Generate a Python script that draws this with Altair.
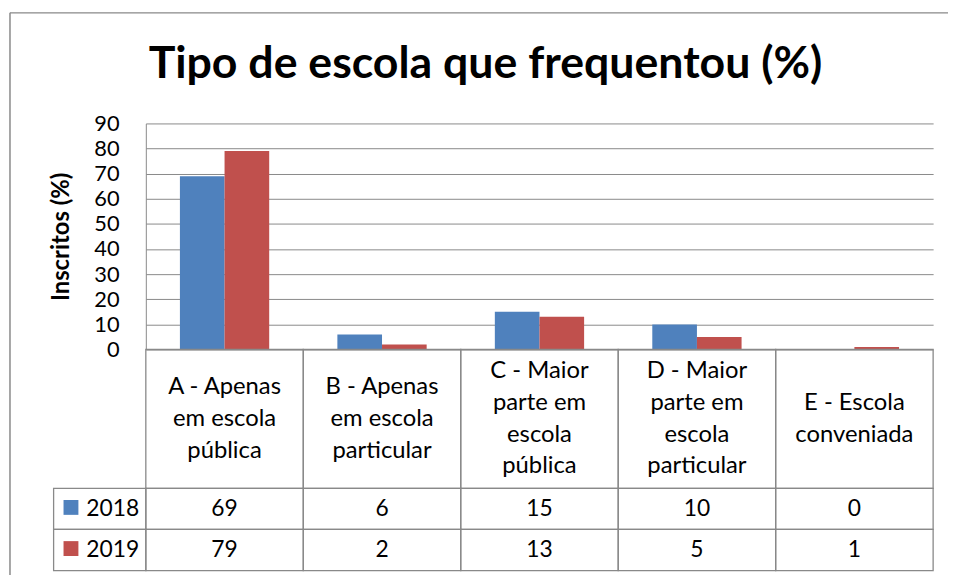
import altair as alt
import pandas as pd

# ---------------- data ----------------
categories = ["A", "B", "C", "D", "E"]
category_labels = [
    ["A - Apenas", "em escola", "pública"],
    ["B - Apenas", "em escola", "particular"],
    ["C - Maior", "parte em", "escola", "pública"],
    ["D - Maior", "parte em", "escola", "particular"],
    ["E - Escola", "conveniada"],
]
years = ["2018", "2019"]
values_2018 = [69, 6, 15, 10, 0]
values_2019 = [79, 2, 13, 5, 1]
y_ticks = [0, 10, 20, 30, 40, 50, 60, 70, 80, 90]
title_text = "Tipo de escola que frequentou (%)"
y_title = "Inscritos (%)"
colors = ["#4F81BD", "#C0504D"]

# ---------------- tables built from the lists ----------------
bars_df = pd.DataFrame({
    "cat": categories * 2,
    "year": [years[0]] * len(categories) + [years[1]] * len(categories),
    "value": values_2018 + values_2019,
})

# table cells (structure: column index, row index)
cells = []
for i in range(len(categories)):
    cells.append(dict(c0=i, c1=i + 1, r0=0, r1=1))
    cells.append(dict(c0=i, c1=i + 1, r0=1, r1=2))
    cells.append(dict(c0=i, c1=i + 1, r0=2, r1=3))
for j in range(len(years)):
    cells.append(dict(c0=-1, c1=0, r0=j + 1, r1=j + 2))
cells_df = pd.DataFrame(cells)

# header lines (one row per text line, line index centred on the cell)
header_rows = []
for i, lines in enumerate(category_labels):
    n = len(lines)
    for k, line in enumerate(lines):
        header_rows.append(dict(xm=i + 0.5, line=k - (n - 1) / 2, text=line))
header_df = pd.DataFrame(header_rows)

value_rows = []
for i in range(len(categories)):
    value_rows.append(dict(xm=i + 0.5, ym=1.5, text=str(values_2018[i])))
    value_rows.append(dict(xm=i + 0.5, ym=2.5, text=str(values_2019[i])))
values_df = pd.DataFrame(value_rows)

legend_df = pd.DataFrame([dict(c0=-1, ym=j + 1.5, text=y, year=y) for j, y in enumerate(years)])

FONT = "Lato"
GRAY = "#898989"
W, H = 794, 228
HEAD_MID = (H + 368) / 2
LINE_H = 32

xt = alt.Scale(type="linear", domain=[-1, 0, 5], range=[-93, 0, W], nice=False, zero=False)
yt = alt.Scale(type="linear", domain=[0, 1, 2, 3], range=[H, 368, 409.5, 451], nice=False, zero=False)
yline = alt.Scale(type="linear", domain=[-2, 2], range=[HEAD_MID - 2 * LINE_H, HEAD_MID + 2 * LINE_H],
                  nice=False, zero=False)

# ---------------- bars ----------------
bars = alt.Chart(bars_df).mark_bar().encode(
    x=alt.X("cat:N", sort=categories, axis=None,
            scale=alt.Scale(domain=categories, range=[0, W], paddingInner=0.433, paddingOuter=0.2165)),
    xOffset=alt.XOffset("year:N", sort=years, scale=alt.Scale(domain=years, paddingInner=0, paddingOuter=0)),
    y=alt.Y("value:Q",
            scale=alt.Scale(domain=[0, 90], range=[H, 0], nice=False, zero=True),
            axis=alt.Axis(values=y_ticks, title=y_title, ticks=False, grid=True,
                          gridColor=GRAY, gridWidth=1, domainColor=GRAY, domainWidth=1,
                          labelFont=FONT, labelFontSize=22, labelColor="black", labelPadding=27,
                          labelBaseline="middle",
                          titleFont=FONT, titleFontSize=24, titleFontWeight="bold", titleColor="black",
                          titleX=-85, titleY=H / 2, titleBaseline="middle", titleAlign="center",
                          titleAngle=270)),
    color=alt.Color("year:N", scale=alt.Scale(domain=years, range=colors), legend=None),
)

# ---------------- table ----------------
grid_rects = alt.Chart(cells_df).mark_rect(fill=None, stroke=GRAY, strokeWidth=1.3).encode(
    x=alt.X("c0:Q", scale=xt, axis=None),
    x2="c1:Q",
    y=alt.Y("r0:Q", scale=yt, axis=None),
    y2="r1:Q",
)

header_text = alt.Chart(header_df).mark_text(
    font=FONT, fontSize=24, color="black", align="center", baseline="middle").encode(
    x=alt.X("xm:Q", scale=xt, axis=None),
    y=alt.Y("line:Q", scale=yline, axis=None),
    text="text:N",
)

value_text = alt.Chart(values_df).mark_text(
    font=FONT, fontSize=23, color="black", align="center", baseline="middle").encode(
    x=alt.X("xm:Q", scale=xt, axis=None),
    y=alt.Y("ym:Q", scale=yt, axis=None),
    text="text:N",
)

legend_text = alt.Chart(legend_df).mark_text(
    font=FONT, fontSize=23, color="black", align="left", baseline="middle", xOffset=33).encode(
    x=alt.X("c0:Q", scale=xt, axis=None),
    y=alt.Y("ym:Q", scale=yt, axis=None),
    text="text:N",
)

legend_swatch = alt.Chart(legend_df).mark_point(
    shape="square", filled=True, size=225, opacity=1, xOffset=17.5, yOffset=-1.5).encode(
    x=alt.X("c0:Q", scale=xt, axis=None),
    y=alt.Y("ym:Q", scale=yt, axis=None),
    color=alt.Color("year:N", scale=alt.Scale(domain=years, range=colors), legend=None),
)

# ---------------- title & frame ----------------
one = pd.DataFrame({"t": [title_text]})
title = alt.Chart(one).mark_text(font=FONT, fontSize=45, fontWeight="bold", color="black",
                                 align="center", baseline="alphabetic").encode(
    x=alt.value(342.5), y=alt.value(-46), text="t:N")
frame_top = alt.Chart(one).mark_rule(color=GRAY, strokeWidth=1.5).encode(
    x=alt.value(-137), x2=alt.value(820), y=alt.value(-111.5))
frame_left = alt.Chart(one).mark_rule(color=GRAY, strokeWidth=1.5).encode(
    x=alt.value(-137), y=alt.value(-111.5), y2=alt.value(470))

chart = alt.layer(
    frame_top, frame_left, bars, grid_rects, header_text, value_text,
    legend_swatch, legend_text, title
).resolve_scale(x="independent", y="independent").properties(
    width=W, height=H, autosize="none",
    padding={"left": 139, "top": 114, "right": 15, "bottom": 225},
).configure_view(stroke=None)

chart.save("out.html", embed_options={"renderer": "svg", "actions": False})
